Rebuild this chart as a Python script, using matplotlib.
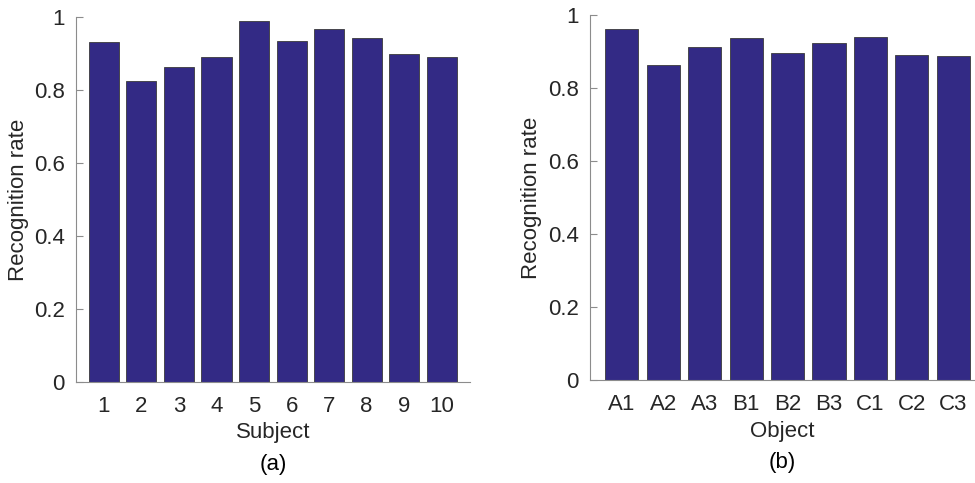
import matplotlib.pyplot as plt

plt.rcParams['font.family'] = ['Liberation Sans', 'DejaVu Sans']

# 数据
subjects = ['1', '2', '3', '4', '5', '6', '7', '8', '9', '10']
subject_rate = [0.931, 0.824, 0.862, 0.889, 0.989, 0.933, 0.966, 0.941, 0.899, 0.891]

objects = ['A1', 'A2', 'A3', 'B1', 'B2', 'B3', 'C1', 'C2', 'C3']
object_rate = [0.961, 0.863, 0.911, 0.936, 0.896, 0.922, 0.939, 0.890, 0.888]

bar_color = '#332a85'
txt = '#262626'

fig = plt.figure(figsize=(9.75, 4.83), dpi=100)
ax1 = fig.add_axes([0.078, 0.209, 0.404, 0.756])
ax2 = fig.add_axes([0.605, 0.213, 0.394, 0.756])


def draw(ax, names, vals, xlabel, tag, xlim):
    x = list(range(1, len(names) + 1))
    ax.bar(x, vals, width=0.8, color=bar_color, edgecolor='#3a3a3a', linewidth=0.6)
    ax.set_xlim(*xlim)
    ax.set_ylim(0, 1)
    ax.set_xticks(x)
    ax.set_xticklabels(names)
    ax.set_yticks([0, 0.2, 0.4, 0.6, 0.8, 1])
    ax.set_yticklabels(['0', '0.2', '0.4', '0.6', '0.8', '1'])
    for s in ['top', 'right']:
        ax.spines[s].set_visible(False)
    for s in ['left', 'bottom']:
        ax.spines[s].set_color('#8c8c8c')
        ax.spines[s].set_linewidth(0.8)
    ax.tick_params(axis='y', direction='in', length=5, color='#8c8c8c',
                   labelsize=16, labelcolor=txt, pad=8)
    ax.tick_params(axis='x', length=0, labelsize=16, labelcolor=txt, pad=10)
    ax.set_ylabel('Recognition rate', fontsize=16, color=txt, labelpad=4)
    ax.set_xlabel(xlabel, fontsize=16, color=txt, labelpad=4)
    ax.text(0.5, -0.225, tag, transform=ax.transAxes, ha='center', va='center',
            fontsize=16, color='black')


draw(ax1, subjects, subject_rate, 'Subject', '(a)', (0.26, 10.75))
draw(ax2, objects, object_rate, 'Object', '(b)', (0.23, 9.5))

fig.savefig('out.png', dpi=100)
